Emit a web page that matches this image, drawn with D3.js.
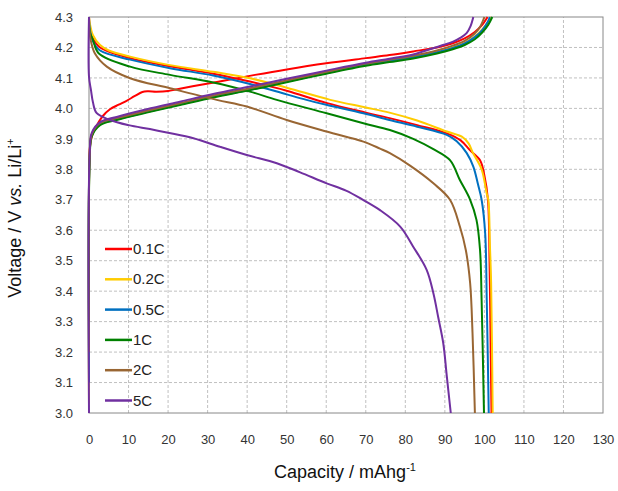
<!DOCTYPE html>
<html>
<head>
<meta charset="utf-8">
<script src="https://cdn.jsdelivr.net/npm/d3@7"></script>
<style>
  body { margin: 0; background: #fff; }
  svg { display: block; }
  text { font-family: "Liberation Sans", Arial, sans-serif; }
</style>
</head>
<body>
<svg id="chart" width="618" height="491"></svg>
<script>
// ---- data ----
const seriesNames = ["0.1C", "0.2C", "0.5C", "1C", "2C", "5C"];
const seriesColors = ["#FF0000", "#FFCC00", "#0070C0", "#008000", "#996633", "#7030A0"];
const xTicks = [0, 10, 20, 30, 40, 50, 60, 70, 80, 90, 100, 110, 120, 130];
const yTicks = [3.0, 3.1, 3.2, 3.3, 3.4, 3.5, 3.6, 3.7, 3.8, 3.9, 4.0, 4.1, 4.2, 4.3];

// charge curves [capacity, voltage]
const charge01C = [[0,3.8],[0.3,3.88],[1,3.92],[2,3.945],[3.5,3.975],[5.3,3.997],[7.5,4.012],[9.5,4.025],[11.5,4.04],[13.5,4.054],[15,4.056],[17,4.055],[20,4.057],[22,4.062],[28,4.077],[35,4.093],[42,4.11],[50,4.128],[60,4.148],[70,4.165],[76,4.175],[82,4.187],[88,4.2],[92,4.214],[95,4.23],[97.5,4.25],[99.5,4.275],[100.8,4.3]];
const charge02C = [[0,3.03],[0.2,3.85],[0.7,3.915],[2.8,3.95],[7,3.966],[14.6,3.99],[23,4.015],[31.4,4.04],[40.7,4.063],[50,4.09],[60,4.118],[70,4.145],[76,4.158],[82,4.17],[88,4.186],[92,4.2],[95,4.215],[97.5,4.235],[99.5,4.26],[101,4.285],[101.7,4.3]];
const charge05C = [[0,3.1],[0.2,3.85],[0.7,3.912],[2.8,3.948],[7,3.964],[14.6,3.988],[23,4.013],[31.4,4.038],[40.7,4.061],[50,4.088],[60,4.116],[70,4.143],[76,4.156],[82,4.168],[88,4.184],[92,4.198],[95,4.213],[97.5,4.233],[99.5,4.258],[100.8,4.283],[101.4,4.3]];
const charge1C = [[0,3.3],[0.2,3.84],[0.7,3.908],[2.8,3.945],[7,3.962],[14.6,3.986],[23,4.011],[31.4,4.036],[40.7,4.06],[50,4.086],[60,4.114],[70,4.14],[76,4.152],[82,4.164],[88,4.18],[92,4.194],[95,4.208],[97.5,4.226],[99.5,4.25],[101,4.275],[102,4.3]];
const charge2C = [[0,3.2],[0.2,3.85],[0.7,3.915],[2.8,3.952],[7,3.968],[14.6,3.992],[23,4.017],[31.4,4.042],[40.7,4.066],[50,4.092],[60,4.12],[70,4.147],[76,4.16],[82,4.173],[88,4.19],[92,4.206],[95,4.222],[97.5,4.245],[99,4.27],[100,4.3]];
const charge5C = [[0,3.0],[0.2,3.86],[0.7,3.92],[2.8,3.955],[7,3.972],[14.6,3.997],[23,4.022],[31.4,4.047],[40.7,4.072],[50,4.097],[60,4.124],[70,4.15],[76,4.163],[82,4.177],[88.8,4.205],[92.1,4.219],[94,4.232],[95.5,4.247],[96.5,4.27],[97.2,4.3]];

// discharge curves [capacity, voltage]
const discharge01C = [[0,4.3],[0.2,4.27],[1,4.23],[2.8,4.2],[10.4,4.165],[20.5,4.138],[31.4,4.114],[40.7,4.088],[50,4.058],[60,4.018],[70,3.986],[76,3.968],[83,3.945],[90.5,3.918],[94,3.895],[96.4,3.862],[98.9,3.83],[100,3.78],[100.9,3.7],[101.3,3.5],[101.6,3.2],[101.8,3.0]];
const discharge02C = [[0,4.3],[0.2,4.28],[1,4.24],[2.8,4.208],[5,4.19],[10.4,4.17],[20.5,4.142],[31.4,4.12],[40.7,4.099],[50,4.068],[61,4.028],[70,4.003],[76,3.986],[83,3.96],[90.5,3.924],[94.3,3.907],[96,3.885],[97.1,3.854],[99.3,3.8],[100.6,3.72],[101,3.7],[101.4,3.55],[101.7,3.43],[102.1,3.0]];
const discharge05C = [[0,4.3],[0.2,4.26],[1,4.22],[2.8,4.19],[10.4,4.16],[20.5,4.132],[31.4,4.108],[40.7,4.08],[50,4.046],[55,4.028],[60,4.012],[69.4,3.984],[76,3.962],[83,3.94],[90.5,3.913],[93,3.892],[95.5,3.854],[97.2,3.809],[98.4,3.75],[99.3,3.7],[100.2,3.59],[100.6,3.37],[101.1,3.0]];
const discharge1C = [[0,4.3],[0.2,4.25],[1,4.225],[2.5,4.18],[10.4,4.137],[20.5,4.11],[31.4,4.085],[40.7,4.055],[47.5,4.028],[60.1,3.984],[69.4,3.951],[76.1,3.929],[82,3.9],[87.1,3.866],[91.3,3.83],[93.8,3.765],[96.4,3.7],[98,3.634],[98.9,3.535],[99.3,3.37],[99.9,3.0]];
const discharge2C = [[0,4.3],[0.1,4.257],[0.5,4.22],[1.5,4.18],[4.5,4.137],[10.4,4.099],[20.5,4.066],[32.3,4.028],[39.9,4.006],[50,3.962],[60.1,3.924],[69.4,3.891],[73.6,3.868],[76.1,3.853],[81.2,3.812],[87.1,3.754],[91.3,3.7],[93.8,3.612],[95.3,3.535],[96.4,3.426],[97,3.262],[97.6,3.0]];
const discharge5C = [[0,4.3],[0,4.104],[0.5,4.06],[1,4.02],[1.9,3.985],[5.3,3.962],[10,3.945],[15.4,3.932],[20,3.92],[26.4,3.902],[33.1,3.874],[39.9,3.847],[47.5,3.82],[53.4,3.79],[60.1,3.754],[65,3.73],[69.4,3.699],[73.6,3.666],[78.7,3.612],[82,3.546],[85.4,3.47],[87.1,3.393],[88.3,3.316],[89.6,3.229],[90.5,3.12],[91.5,3.0]];

const chargeData = [charge01C, charge02C, charge05C, charge1C, charge2C, charge5C];
const dischargeData = [discharge01C, discharge02C, discharge05C, discharge1C, discharge2C, discharge5C];

// ---- chart ----
const svg = d3.select("#chart");
const margin = { left: 89, right: 15, top: 17, bottom: 78 };
const W = 618, H = 491;
const x = d3.scaleLinear().domain([0, 130]).range([margin.left, W - margin.right]);
const y = d3.scaleLinear().domain([3.0, 4.3]).range([H - margin.bottom, margin.top]);

// gridlines
const grid = svg.append("g");
grid.selectAll("line.v").data(xTicks.slice(1, -1)).enter().append("line")
  .attr("x1", d => x(d)).attr("x2", d => x(d))
  .attr("y1", y(3.0)).attr("y2", y(4.3))
  .attr("stroke", "#c0c0c0").attr("stroke-width", 1).attr("stroke-dasharray", "3,2");
grid.selectAll("line.h").data(yTicks.slice(1, -1)).enter().append("line")
  .attr("y1", d => y(d)).attr("y2", d => y(d))
  .attr("x1", x(0)).attr("x2", x(130))
  .attr("stroke", "#c0c0c0").attr("stroke-width", 1).attr("stroke-dasharray", "3,2");

// frame
svg.append("rect")
  .attr("x", x(0)).attr("y", y(4.3))
  .attr("width", x(130) - x(0)).attr("height", y(3.0) - y(4.3))
  .attr("fill", "none").attr("stroke", "#888").attr("stroke-width", 1);

// axes
const xAxis = d3.axisBottom(x).tickValues(xTicks).tickSize(0).tickPadding(22).tickFormat(d3.format("d"));
const gx = svg.append("g").attr("transform", `translate(0,${y(3.0)})`).call(xAxis);
gx.select(".domain").remove();
gx.selectAll("text").attr("font-size", 13).attr("fill", "#333");

const yAxis = d3.axisLeft(y).tickValues(yTicks).tickSize(0).tickPadding(16).tickFormat(d3.format(".1f"));
const gy = svg.append("g").attr("transform", `translate(${x(0)},0)`).call(yAxis);
gy.select(".domain").remove();
gy.selectAll("text").attr("font-size", 13).attr("fill", "#333");

// lines
const line = d3.line().x(d => x(d[0])).y(d => y(d[1])).curve(d3.curveCatmullRom.alpha(0.5));
const plot = svg.append("g");
seriesNames.forEach((name, i) => {
  plot.append("path").datum(chargeData[i]).attr("d", line)
    .attr("fill", "none").attr("stroke", seriesColors[i]).attr("stroke-width", 2)
    .attr("stroke-linejoin", "round");
  plot.append("path").datum(dischargeData[i]).attr("d", line)
    .attr("fill", "none").attr("stroke", seriesColors[i]).attr("stroke-width", 2)
    .attr("stroke-linejoin", "round");
});

// legend
const legend = svg.append("g");
seriesNames.forEach((name, i) => {
  const ly = 249 + i * 30.3;
  legend.append("line").attr("x1", 105).attr("x2", 132).attr("y1", ly).attr("y2", ly)
    .attr("stroke", seriesColors[i]).attr("stroke-width", 2.5);
  legend.append("text").attr("x", 133).attr("y", ly + 5).attr("font-size", 15).attr("fill", "#222").text(name);
});

// axis titles
const xt = svg.append("text").attr("x", 345).attr("y", 478).attr("text-anchor", "middle")
  .attr("font-size", 18).attr("fill", "#111");
xt.append("tspan").text("Capacity / mAhg");
xt.append("tspan").attr("font-size", 11).attr("dy", -7).text("-1");

const yt = svg.append("text").attr("transform", "translate(21,218) rotate(-90)")
  .attr("text-anchor", "middle").attr("font-size", 18).attr("fill", "#111");
yt.append("tspan").text("Voltage / V ");
yt.append("tspan").attr("font-style", "italic").text("vs.");
yt.append("tspan").text(" Li/Li");
yt.append("tspan").attr("font-size", 11).attr("dy", -7).text("+");
</script>
</body>
</html>
